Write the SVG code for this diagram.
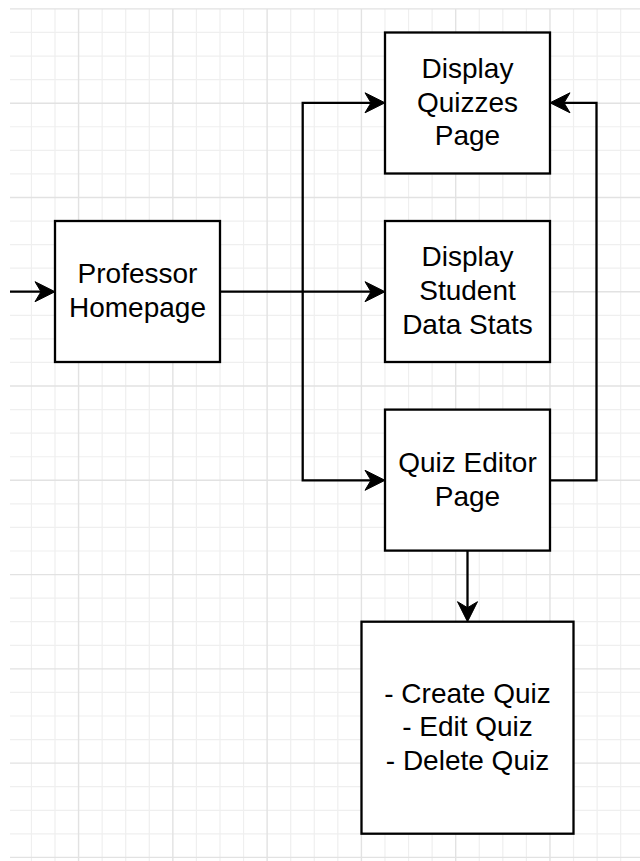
<svg xmlns="http://www.w3.org/2000/svg" width="640" height="861" viewBox="0 0 640 861">
  <style>
    .grid-minor { fill: none; stroke: #efefef; stroke-width: 1.2; }
    .grid-major { fill: none; stroke: #e2e2e2; stroke-width: 1.4; }
    .box { fill: #ffffff; stroke: #000000; stroke-width: 2.3; }
    .edge { fill: none; stroke: #000000; stroke-width: 2.3; marker-end: url(#arrow); }
    .label { font-family: "Liberation Sans", Arial, Helvetica, sans-serif; font-size: 28px; fill: #000000; text-anchor: middle; }
  </style>
  <defs>
    <!-- classic notched arrowhead; tip sits 12 units past the path end -->
    <marker id="arrow" markerUnits="userSpaceOnUse" viewBox="-9 -11 22 22" refX="0" refY="0" markerWidth="22" markerHeight="22" orient="auto" overflow="visible">
      <path d="M12,0 L-8,-10 L-2,0 L-8,10 Z" fill="#000000" stroke="#000000" stroke-width="1" stroke-linejoin="miter"/>
    </marker>
  </defs>

  <rect x="0" y="0" width="640" height="861" fill="#ffffff"/>

  <!-- background grid -->
  <g id="grid">
    <path class="grid-minor" d="M31.43 8.9V861M55 8.9V861M102.14 8.9V861M125.71 8.9V861M149.28 8.9V861M196.42 8.9V861M220 8.9V861M243.56 8.9V861M290.7 8.9V861M314.27 8.9V861M337.84 8.9V861M384.98 8.9V861M408.55 8.9V861M432.12 8.9V861M479.26 8.9V861M502.83 8.9V861M526.4 8.9V861M573.54 8.9V861M597.11 8.9V861M620.68 8.9V861
      M10 32.47H640M10 56.04H640M10 79.61H640M10 126.75H640M10 150.32H640M10 173.89H640M10 221.03H640M10 244.6H640M10 268.17H640M10 315.31H640M10 338.88H640M10 362.45H640M10 409.59H640M10 433.16H640M10 456.73H640M10 503.87H640M10 527.44H640M10 551.01H640M10 598.15H640M10 621.72H640M10 645.29H640M10 692.43H640M10 716H640M10 739.57H640M10 786.71H640M10 810.28H640M10 833.85H640"/>
    <path class="grid-major" d="M78.57 8.9V861M172.85 8.9V861M267.13 8.9V861M361.41 8.9V861M455.69 8.9V861M549.97 8.9V861
      M10 8.9H640M10 103.18H640M10 197.46H640M10 291.74H640M10 386.02H640M10 480.3H640M10 574.58H640M10 668.86H640M10 763.14H640M10 857.42H640"/>
  </g>

  <!-- connectors -->
  <g id="connectors">
    <path class="edge" d="M10,291.7 H43"/>
    <path class="edge" d="M220,291.7 H373"/>
    <path class="edge" d="M302.7,291.7 V102.8 H373"/>
    <path class="edge" d="M302.7,291.7 V480.3 H373"/>
    <path class="edge" d="M550,480.3 H596.5 V102.8 H562"/>
    <path class="edge" d="M467.5,551 V609.7"/>
  </g>

  <g id="professor-homepage">
    <rect class="box" x="55" y="221" width="165" height="141"/>
    <text class="label" x="137.5" y="283.2">Professor</text>
    <text class="label" x="137.5" y="316.8">Homepage</text>
  </g>

  <g id="display-quizzes">
    <rect class="box" x="385" y="32.5" width="165" height="141"/>
    <text class="label" x="467.5" y="78">Display</text>
    <text class="label" x="467.5" y="111.6">Quizzes</text>
    <text class="label" x="467.5" y="145.2">Page</text>
  </g>

  <g id="display-student-stats">
    <rect class="box" x="385" y="221" width="165" height="141"/>
    <text class="label" x="467.5" y="266.4">Display</text>
    <text class="label" x="467.5" y="300">Student</text>
    <text class="label" x="467.5" y="333.6">Data Stats</text>
  </g>

  <g id="quiz-editor">
    <rect class="box" x="385" y="409.6" width="165" height="141"/>
    <text class="label" x="467.5" y="472">Quiz Editor</text>
    <text class="label" x="467.5" y="505.6">Page</text>
  </g>

  <g id="quiz-actions">
    <rect class="box" x="361.5" y="621.7" width="212" height="212"/>
    <text class="label" x="467.5" y="702.6">- Create Quiz</text>
    <text class="label" x="467.5" y="736.2">- Edit Quiz</text>
    <text class="label" x="467.5" y="769.8">- Delete Quiz</text>
  </g>
</svg>
